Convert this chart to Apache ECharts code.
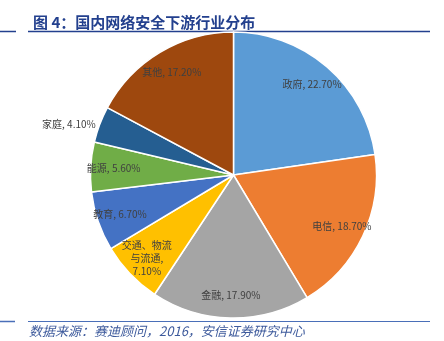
<!DOCTYPE html>
<html><head><meta charset="utf-8">
<script src="https://cdn.jsdelivr.net/npm/echarts@6/dist/echarts.min.js"></script>
<style>html,body{margin:0;padding:0;background:#fff}#c{width:444px;height:341px}</style>
</head><body><div id="c"></div>
<script>
const titleText = '图 4：国内网络安全下游行业分布';
const sourceText = '数据来源：赛迪顾问，2016，安信证券研究中心';
const categories = ['政府', '电信', '金融', '交通、物流与流通', '教育', '能源', '家庭', '其他'];
const shares = [22.7, 18.7, 17.9, 7.1, 6.7, 5.6, 4.1, 17.2];
const colors = ['#5B9BD5', '#ED7D31', '#A5A5A5', '#FFC000', '#4472C4', '#70AD47', '#255E91', '#9E480E'];
const outsideLabel = '家庭';

function labelText(p) {
  const pct = p.value.toFixed(2) + '%';
  const n = p.name;
  if (n.length > 6) return n.slice(0, 5) + '\n' + n.slice(5) + ',\n' + pct;
  return n + ', ' + pct;
}

const chart = echarts.init(document.getElementById('c'), null, {renderer: 'canvas'});
const labelStyle = {color: '#404040', fontSize: 10, fontFamily: '"Noto Sans CJK SC", sans-serif', textBorderWidth: 0, lineHeight: 13};
const center = [233.5, 175];

chart.setOption({
  animation: false,
  title: {
    text: titleText, left: 28, top: 10,
    textStyle: {color: '#23408E', fontSize: 15, fontWeight: 'bold', fontFamily: '"Noto Sans CJK SC", sans-serif'}
  },
  graphic: [
    {type: 'line', shape: {x1: 0, y1: 31.5, x2: 16, y2: 31.5}, style: {stroke: '#23408E', lineWidth: 1.5}},
    {type: 'line', shape: {x1: 28, y1: 31.5, x2: 430, y2: 31.5}, style: {stroke: '#23408E', lineWidth: 1.5}},
    {type: 'line', shape: {x1: 0, y1: 321.5, x2: 15, y2: 321.5}, style: {stroke: '#4A6FB8', lineWidth: 1.5}},
    {type: 'line', shape: {x1: 28, y1: 321.5, x2: 430, y2: 321.5}, style: {stroke: '#4A6FB8', lineWidth: 1.2}},
    {type: 'text', left: 29, top: 325, style: {text: sourceText, fill: '#3D5A9C', font: 'italic 13px "Noto Sans CJK SC", sans-serif'}}
  ],
  series: [
    {
      type: 'pie', center: center, radius: [0, 143], startAngle: 90, clockwise: true,
      silent: true, avoidLabelOverlap: false,
      itemStyle: {borderColor: '#fff', borderWidth: 1.5},
      label: {show: false},
      labelLine: {show: false, length: 0, length2: 0},
      data: categories.map((c, i) => ({
        name: c, value: shares[i], itemStyle: {color: colors[i]},
        label: c === outsideLabel ? Object.assign({show: true, position: 'outside', formatter: labelText, distanceToLabelLine: 4}, labelStyle) : {show: false}
      }))
    },
    {
      type: 'pie', center: center, radius: [0, 234], startAngle: 90, clockwise: true,
      silent: true, avoidLabelOverlap: false, z: 3,
      itemStyle: {color: 'rgba(0,0,0,0)', borderWidth: 0},
      emphasis: {disabled: true},
      label: Object.assign({show: true, position: 'inside', formatter: labelText}, labelStyle),
      labelLine: {show: false},
      data: categories.map((c, i) => ({
        name: c, value: shares[i],
        label: c === outsideLabel ? {show: false} : {}
      }))
    }
  ]
});
</script></body></html>
